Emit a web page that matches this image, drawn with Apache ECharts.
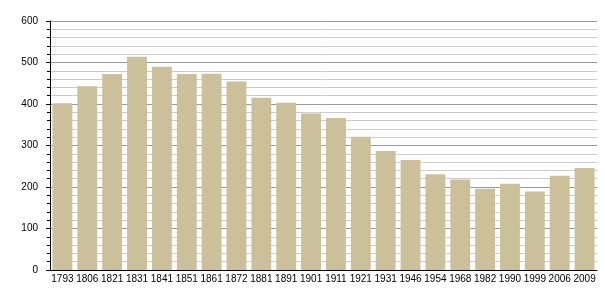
<!DOCTYPE html>
<html><head><meta charset="utf-8">
<script src="https://cdn.jsdelivr.net/npm/echarts@6/dist/echarts.min.js"></script>
<style>html,body{margin:0;padding:0;background:#fff}#c{width:605px;height:300px}</style>
</head><body><div id="c"></div>
<script>
var years = ['1793','1806','1821','1831','1841','1851','1861','1872','1881','1891','1901','1911','1921','1931','1946','1954','1968','1982','1990','1999','2006','2009'];
var population = [402,443,472,514,490,472,473,454,415,403,377,366,321,287,265,231,218,196,208,189,227,246];
var yTicks = {min:0, max:600, interval:100};
var chart = echarts.init(document.getElementById('c'), null, {renderer:'canvas'});
chart.setOption({
  animation:false,
  backgroundColor:'#fff',
  grid:{left:50,right:8,top:21,bottom:30,containLabel:false},
  xAxis:{type:'category',data:years,
    axisLine:{lineStyle:{color:'#000',width:1}},
    axisTick:{show:false},
    axisLabel:{color:'#000',fontSize:10,fontFamily:'Liberation Sans, Arial, sans-serif',margin:4,interval:0}},
  yAxis:{type:'value',min:yTicks.min,max:yTicks.max,interval:yTicks.interval,
    axisLine:{show:true,lineStyle:{color:'#000',width:1}},
    axisTick:{show:true,inside:false,length:4,lineStyle:{color:'#000'}},
    minorTick:{show:true,splitNumber:5,length:3,lineStyle:{color:'#000'}},
    splitLine:{show:true,lineStyle:{color:'#999',width:1}},
    minorSplitLine:{show:true,lineStyle:{color:'#ccc',width:1}},
    axisLabel:{color:'#000',fontSize:10,fontFamily:'Liberation Sans, Arial, sans-serif',margin:12}},
  series:[{type:'bar',data:population,barCategoryGap:'20%',
    itemStyle:{color:'#cbc099'}}]
});
</script></body></html>
